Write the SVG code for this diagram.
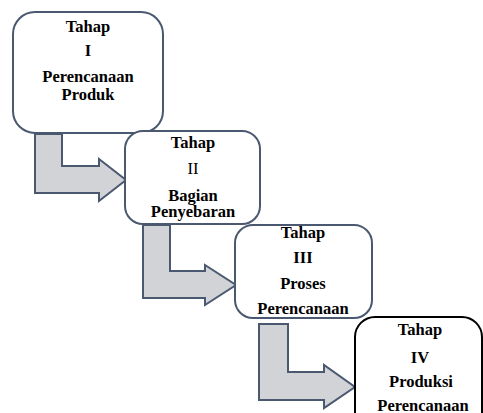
<svg xmlns="http://www.w3.org/2000/svg" width="483" height="413" viewBox="0 0 483 413">
<style>
.box{fill:#fff;stroke:#4a5870;stroke-width:2}
.box4{fill:#fff;stroke:#000;stroke-width:2}
.arr{fill:#d2d3d7;stroke:#4a5870;stroke-width:2;stroke-linejoin:miter}
text{font-family:"Liberation Serif","Times New Roman",serif;font-weight:bold;font-size:16.5px;text-anchor:middle;fill:#000}
.reg{font-weight:normal}
</style>
<rect width="483" height="413" fill="#fff"/>
<g id="connectors">
<path class="arr" d="M35,134 H62 V166 H99 V159 L126,180 L99,201 V193 H35 Z"/>
<path class="arr" d="M143,225 H170 V271 H205 V265 L236,285 L205,305 V298 H143 Z"/>
<path class="arr" d="M259,324 H288 V372 H324 V365 L355,387 L324,408 V400 H259 Z"/>
</g>
<g id="node1">
<rect class="box" x="13" y="12" width="150" height="121" rx="22"/>
<text x="88" y="32">Tahap</text>
<text x="88" y="56">I</text>
<text x="88" y="82">Perencanaan</text>
<text x="88" y="100">Produk</text>
</g>
<g id="node2">
<rect class="box" x="125" y="131" width="135" height="93" rx="18"/>
<text x="193" y="148">Tahap</text>
<text x="193" y="174" class="reg">II</text>
<text x="193" y="201">Bagian</text>
<text x="193" y="217">Penyebaran</text>
</g>
<g id="node3">
<rect class="box" x="235" y="225" width="137" height="93" rx="18"/>
<text x="303" y="238">Tahap</text>
<text x="303" y="263">III</text>
<text x="303" y="289">Proses</text>
<text x="303" y="314">Perencanaan</text>
</g>
<g id="node4">
<rect class="box4" x="355" y="317" width="127" height="120" rx="20"/>
<text x="420" y="335">Tahap</text>
<text x="420" y="363">IV</text>
<text x="421" y="387">Produksi</text>
<text x="423" y="411">Perencanaan</text>
</g>
</svg>
